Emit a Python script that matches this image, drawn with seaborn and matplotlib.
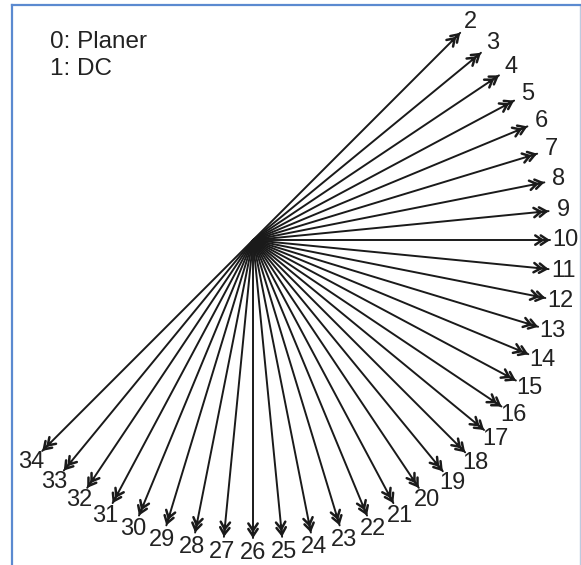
import numpy as np
import pandas as pd
import matplotlib
matplotlib.use("Agg")
import matplotlib.pyplot as plt
import seaborn as sns

# === data: arrow ids, direction (deg, 0 = right, counter-clockwise) and length (px) ===
labels = [str(i) for i in range(2, 35)]
angles = [45.0, 39.4, 33.8, 28.1, 22.5, 16.9, 11.2, 5.6, 0.0,
          -5.6, -11.2, -16.9, -22.5, -28.1, -33.8, -39.4, -45.0,
          -50.6, -56.2, -61.9, -67.5, -73.1, -78.8, -84.4, -90.0,
          -95.6, -101.2, -106.9, -112.5, -118.1, -123.8, -129.4, -135.0]
lengths = [293, 295, 296, 296, 297, 297, 297, 297, 297,
           297, 298, 298, 298, 298, 299, 299, 300,
           299, 298, 298, 298, 298, 298, 298, 298,
           298, 298, 298, 298, 298, 298, 298, 298]
legend_lines = ["0: Planer", "1: DC"]

sns.set_theme(style="white")
plt.rcParams["font.family"] = ["Liberation Sans", "DejaVu Sans"]

rad = np.deg2rad(angles)
tip_x = np.array(lengths) * np.cos(rad)
tip_y = np.array(lengths) * np.sin(rad)

rows = []
for lab, x, y in zip(labels, tip_x, tip_y):
    rows.append({"arrow": lab, "x": 0.0, "y": 0.0})
    rows.append({"arrow": lab, "x": x, "y": y})
df = pd.DataFrame(rows)

fig = plt.figure(figsize=(5.81, 5.65), dpi=100)
ax = fig.add_axes([12 / 581, -0.05, (580 - 12) / 581, 1 - 5 / 565 + 0.05])
ink = "#1a1a1a"

sns.lineplot(data=df, x="x", y="y", units="arrow", estimator=None, sort=False,
             color=ink, lw=1.4, ax=ax, legend=False)

# double chevron heads
head = "->,head_length=0.42,head_width=0.28"
for x, y, a in zip(tip_x, tip_y, rad):
    for back in (0, 5.5):
        ex, ey = x - back * np.cos(a), y - back * np.sin(a)
        sx, sy = ex - 6 * np.cos(a), ey - 6 * np.sin(a)
        ax.annotate("", xy=(ex, ey), xytext=(sx, sy),
                    arrowprops=dict(arrowstyle=head, color=ink, lw=1.8,
                                    shrinkA=0, shrinkB=0))

# numeric labels beyond the tips
for lab, a, L in zip(labels, rad, lengths):
    r = L + 15
    ax.text(r * np.cos(a), r * np.sin(a), lab, ha="center", va="center",
            fontsize=17, color="#222222")

ax.text(-203, 192, legend_lines[0], fontsize=17.5, color="#222222", va="baseline")
ax.text(-203, 165, legend_lines[1], fontsize=17.5, color="#222222", va="baseline")

# axes span in px relative to the fan centre
ax.set_xlim(12 - 253, 580 - 253)
ax.set_ylim(-(565 + 28 - 240), 240 - 5)
ax.set_xticks([])
ax.set_yticks([])
ax.set_xlabel("")
ax.set_ylabel("")
for side in ("left", "top"):
    ax.spines[side].set_color("#5b8ad0")
    ax.spines[side].set_linewidth(1.6)
ax.spines["right"].set_color("#bccbe0")
ax.spines["right"].set_linewidth(1.0)
ax.spines["bottom"].set_visible(False)

fig.savefig("out.png", dpi=100)
